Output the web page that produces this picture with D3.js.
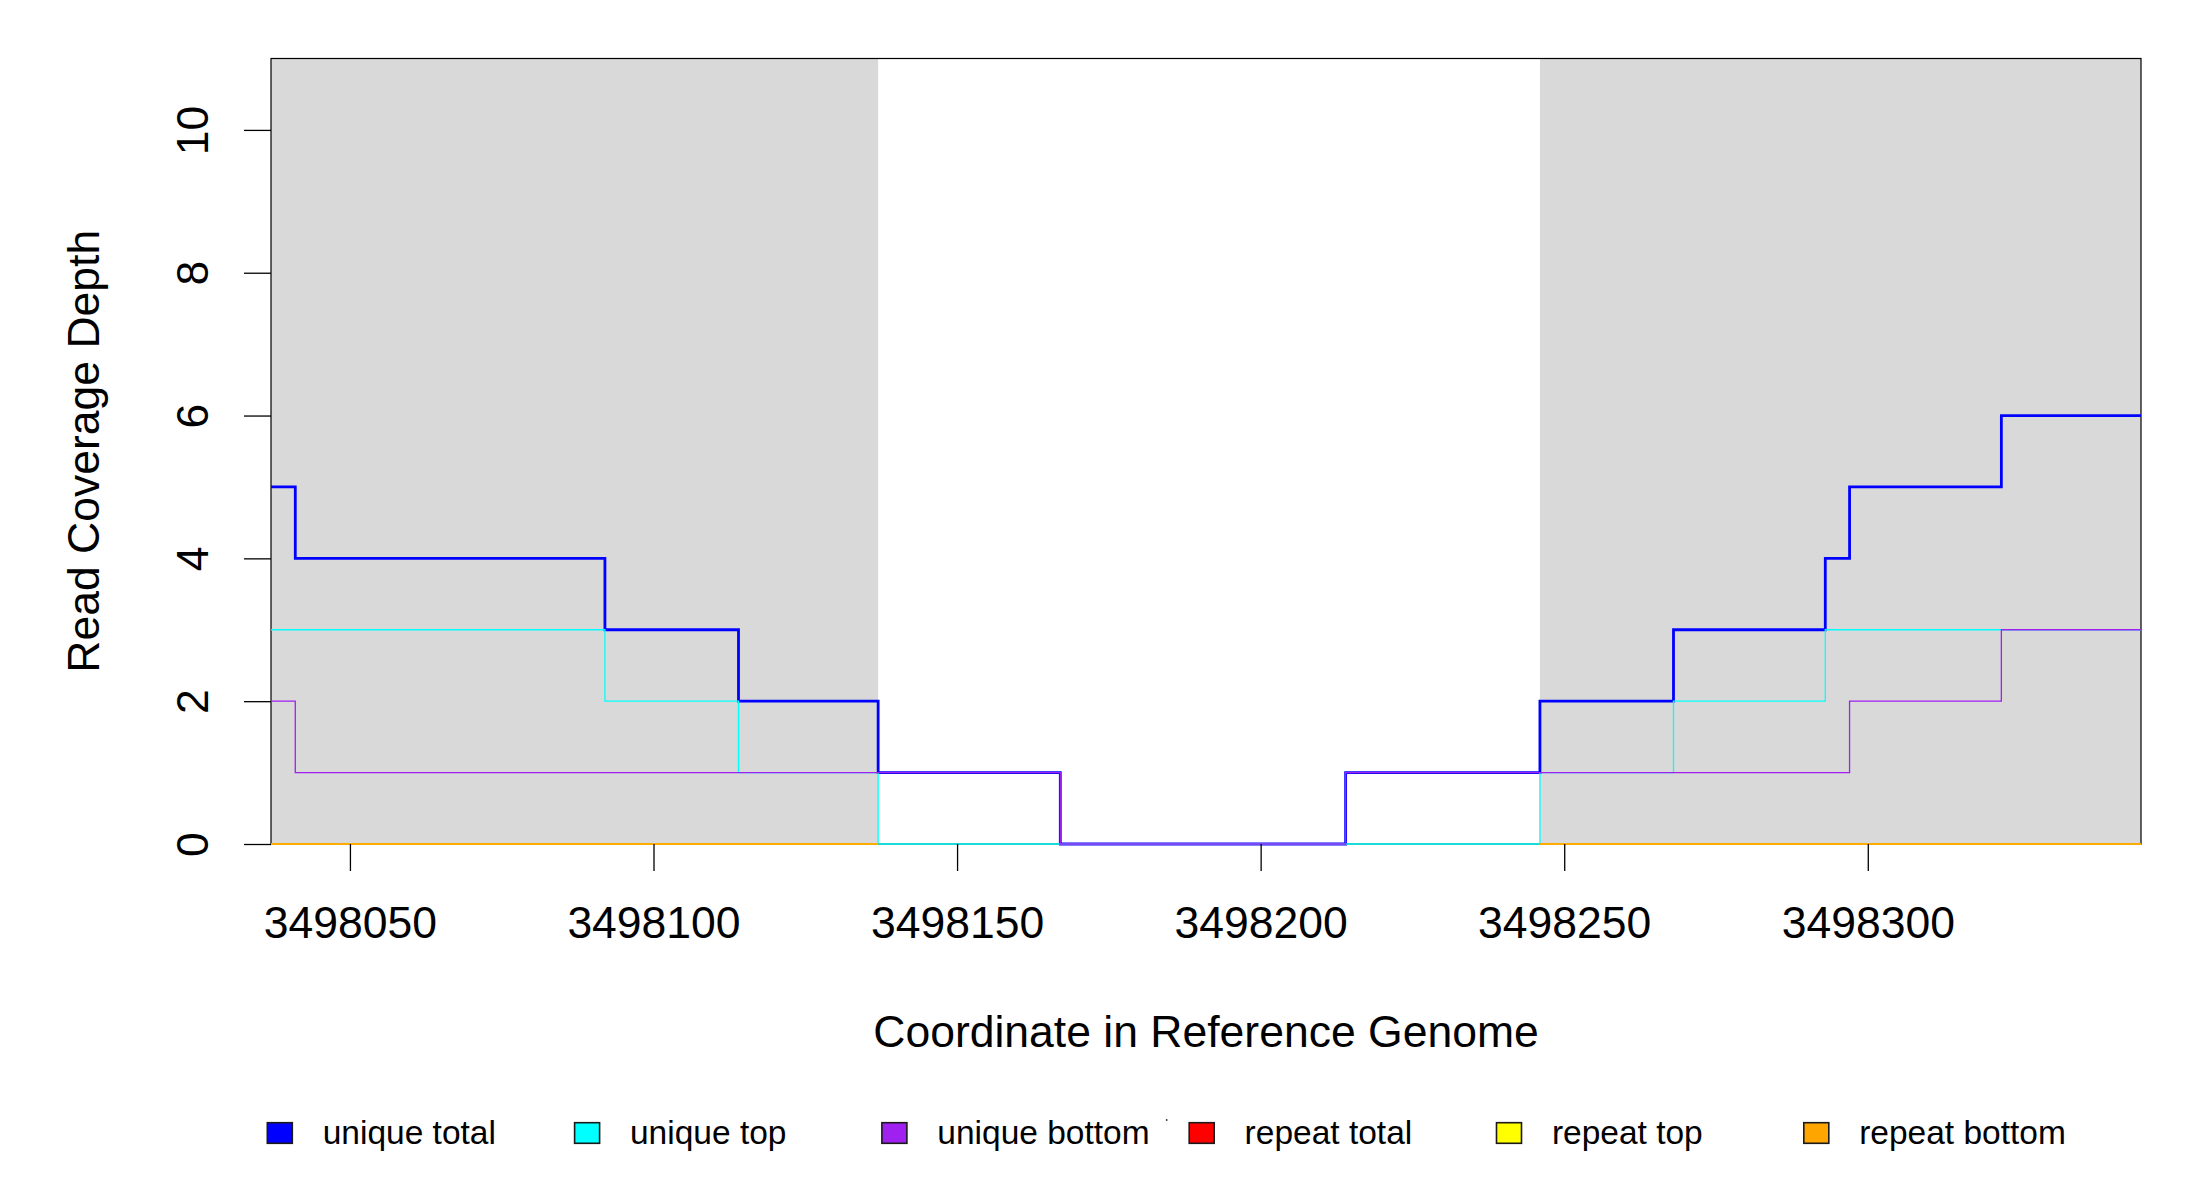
<!DOCTYPE html>
<html>
<head>
<meta charset="utf-8">
<script src="https://cdn.jsdelivr.net/npm/d3@7"></script>
<style>
  html, body { margin: 0; padding: 0; background: #ffffff; }
  svg { display: block; }
  text { font-family: "Liberation Sans", Arial, Helvetica, sans-serif; fill: #000; }
</style>
</head>
<body>
<svg id="chart" width="2200" height="1200"></svg>
<script>
// ---------------- data ----------------
// step breakpoints (value at index i holds from positions[i] to positions[i+1])
const positions    = [3498037, 3498041, 3498092, 3498114, 3498137, 3498167, 3498214, 3498246, 3498268, 3498293, 3498297, 3498322, 3498345];
const uniqueTotal  = [5, 4, 3, 2, 1, 0, 1, 2, 3, 4, 5, 6, 6];
const uniqueTop    = [3, 3, 2, 1, 0, 0, 0, 1, 2, 3, 3, 3, 3];
const uniqueBottom = [2, 1, 1, 1, 1, 0, 1, 1, 1, 1, 2, 3, 3];
const repeatTotal  = [0, 0, 0, 0, null, null, null, 0, 0, 0, 0, 0, 0];
const repeatTop    = [0, 0, 0, 0, null, null, null, 0, 0, 0, 0, 0, 0];
const repeatBottom = [0, 0, 0, 0, null, null, null, 0, 0, 0, 0, 0, 0];
const seriesNames  = ["unique total", "unique top", "unique bottom", "repeat total", "repeat top", "repeat bottom"];
const seriesColors = ["#0000FF", "#00FFFF", "#A020F0", "#FF0000", "#FFFF00", "#FFA500"];
const shadedRegions = [[3498037, 3498137], [3498246, 3498345]];
const xDomain = [3498037, 3498345];
const yDomain = [0, 11];
const xTicks = [3498050, 3498100, 3498150, 3498200, 3498250, 3498300];
const yTicks = [0, 2, 4, 6, 8, 10];
const xTitle = "Coordinate in Reference Genome";
const yTitle = "Read Coverage Depth";

// ---------------- layout ----------------
const L = 271, R = 2141, T = 58.5, B = 844;
const FS = "44.5px";
const svg = d3.select("#chart");
const x = d3.scaleLinear().domain(xDomain).range([L, R]);
const y = d3.scaleLinear().domain(yDomain).range([B, T]);

// shading
svg.append("g").selectAll("rect").data(shadedRegions).join("rect")
  .attr("x", d => x(d[0])).attr("y", T)
  .attr("width", d => x(d[1]) - x(d[0])).attr("height", B - T)
  .attr("fill", "#D9D9D9");

// box
svg.append("rect").attr("x", L).attr("y", T).attr("width", R - L).attr("height", B - T)
  .attr("fill", "none").attr("stroke", "#000").attr("stroke-width", 1.2);

// step lines
const allSeries = [uniqueTotal, uniqueTop, uniqueBottom, repeatTotal, repeatTop, repeatBottom];
const widths = [2.8, 1.3, 1.3, 1.6, 1.6, 1.6];
const line = d3.line().defined(d => d !== null).x(d => x(d[0])).y(d => y(d[1]));
function stepPoints(vals) {
  const pts = [];
  for (let i = 0; i < positions.length - 1; i++) {
    if (vals[i] === null) { pts.push(null); continue; }
    pts.push([positions[i], vals[i]]);
    pts.push([positions[i + 1], vals[i]]);
  }
  return pts;
}
const gLines = svg.append("g");
allSeries.forEach((vals, k) => {
  gLines.append("path")
    .attr("d", line(stepPoints(vals)))
    .attr("fill", "none")
    .attr("stroke", seriesColors[k])
    .attr("stroke-width", widths[k])
    .attr("stroke-linejoin", "miter")
    .attr("stroke-linecap", "butt");
});

// x axis
const gx = svg.append("g").attr("transform", `translate(0,${B})`)
  .call(d3.axisBottom(x).tickValues(xTicks).tickFormat(d3.format("d")).tickSize(27).tickSizeOuter(0));
gx.select(".domain").remove();
gx.selectAll(".tick line").attr("stroke", "#000").attr("stroke-width", 1.3);
gx.selectAll(".tick text").attr("y", 94).attr("dy", 0)
  .style("font-size", FS).style("font-family", '"Liberation Sans", Arial, sans-serif').attr("fill", "#000");

// y axis
const gy = svg.append("g").attr("transform", `translate(${L},0)`)
  .call(d3.axisLeft(y).tickValues(yTicks).tickFormat(d3.format("d")).tickSize(27).tickSizeOuter(0));
gy.select(".domain").remove();
gy.selectAll(".tick line").attr("stroke", "#000").attr("stroke-width", 1.3);
gy.selectAll(".tick text")
  .attr("x", 0).attr("y", -63).attr("dy", 0)
  .attr("transform", "rotate(-90)")
  .attr("text-anchor", "middle")
  .style("font-size", FS).style("font-family", '"Liberation Sans", Arial, sans-serif').attr("fill", "#000");

// titles
svg.append("text").attr("x", (L + R) / 2).attr("y", 1046.5)
  .attr("text-anchor", "middle").style("font-size", FS).text(xTitle);
svg.append("text").attr("transform", `translate(99,${(T + B) / 2}) rotate(-90)`)
  .attr("text-anchor", "middle").style("font-size", FS).text(yTitle);

// legend
const legX0 = 267.3, legStep = 307.3;
const leg = svg.append("g").selectAll("g").data(seriesNames).join("g")
  .attr("transform", (d, i) => `translate(${legX0 + i * legStep},0)`);
leg.append("rect").attr("x", 0).attr("y", 1122.7).attr("width", 25).attr("height", 20.6)
  .attr("fill", (d, i) => seriesColors[i]).attr("stroke", "#1a1a1a").attr("stroke-width", 1.6);
leg.append("text").attr("x", 55.4).attr("y", 1143.5)
  .style("font-size", "33.5px").text(d => d);
// small stray dot seen in the legend row
svg.append("circle").attr("cx", 1166.7).attr("cy", 1120).attr("r", 0.9).attr("fill", "#333");
</script>
</body>
</html>
